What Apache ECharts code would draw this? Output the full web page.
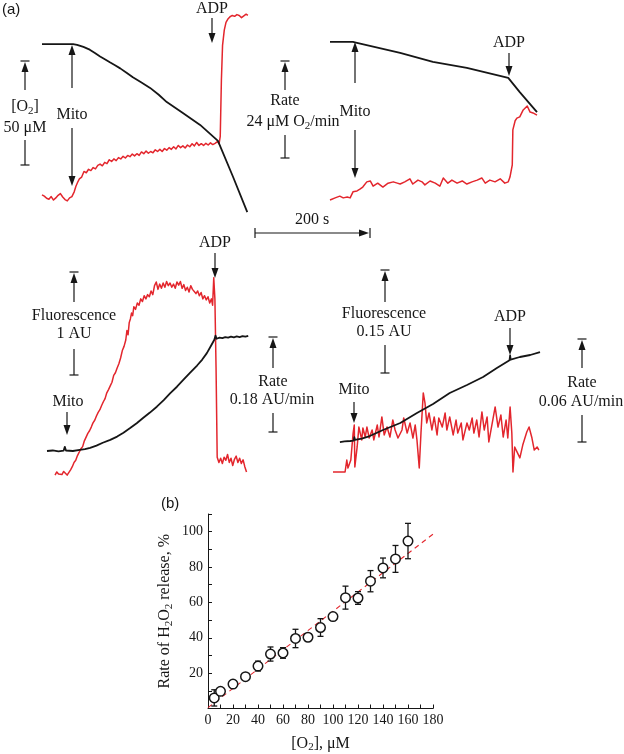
<!DOCTYPE html>
<html>
<head>
<meta charset="utf-8">
<script src="https://cdn.jsdelivr.net/npm/echarts@6.0.0/dist/echarts.min.js"></script>
<style>
  html, body { margin: 0; padding: 0; background: #fff; }
  #main { width: 624px; height: 754px; }
</style>
</head>
<body>
<div id="main"></div>
<script>
// ---- panel (a): recorded traces, [time s, value] ----
// top left: [O2] (uM) and respiration rate (uM O2/min)
var o2TraceA = [[0,82.2],[54,82.2],[61,81.8],[72,80.8],[83,79.5],[92,77.9],[101,76.2],[110,74.8],[118,73.4],[127,72.0],[136,70.5],[147,68.4],[158,66.2],[173,63.7],[188,61.1],[203,57.8],[217,54.3],[231,51.7],[245,49.0],[260,46.2],[275,43.3],[290,39.6],[306,35.6],[332,18.5],[357,1.4]];
var rateTraceA = [[0,0.5],[4,0.2],[8,-0.3],[12,-0.5],[16,0.1],[20,-0.7],[24,-0.2],[28,0.4],[32,0.8],[36,0],[40,-0.6],[44,-0.9],[48,-0.2],[52,0.1],[56,1.2],[59,2.5],[62,3.4],[65,4.2],[69,4.6],[73,5.9],[77,5.6],[81,6.4],[85,6.1],[89,6.8],[93,6.5],[97,7.3],[101,7.6],[105,7.2],[109,8.0],[113,7.7],[117,8.6],[121,8.2],[125,8.8],[129,8.4],[133,9.1],[137,8.8],[141,9.4],[145,9.0],[149,9.6],[153,9.3],[157,9.9],[161,9.5],[165,10.0],[169,9.6],[173,10.4],[177,10.0],[181,10.6],[185,10.1],[189,10.5],[193,10.2],[197,10.9],[201,10.5],[205,11.0],[209,10.5],[213,11.2],[217,10.8],[221,11.4],[225,11.0],[229,11.6],[233,11.1],[237,11.9],[241,11.4],[245,11.8],[249,11.3],[253,12.0],[257,11.6],[261,12.3],[265,11.8],[269,12.6],[273,11.9],[277,12.3],[281,11.9],[285,12.4],[289,12.0],[293,12.5],[297,12.1],[301,12.4],[305,12.8],[308,12.3],[310,14],[312,27],[314,35],[317,38.5],[320,40.3],[323,41.0],[327,41.6],[331,41.9],[335,41.7],[339,42.1],[343,41.9],[347,41.4],[351,41.8],[355,42.2],[358,41.9]];

// top right
var o2TraceB = [[0,83.2],[40,83.2],[45,82.9],[122,77.9],[179,73.6],[238,70.7],[310,65.9],[330,59.1],[360,49.5]];
var rateTraceB = [[0,-0.7],[9,-0.2],[17,0.2],[23,-0.2],[30,0],[35,-0.2],[40,1.2],[47,1.4],[52,1.8],[57,2.3],[64,3.5],[70,3.7],[75,2.5],[83,3.2],[92,2.3],[101,3.2],[110,3.5],[117,3.2],[122,3.0],[130,3.5],[139,4.2],[144,3.0],[153,3.9],[160,3.5],[165,2.8],[174,3.7],[183,3.2],[191,2.5],[197,4.4],[205,3.2],[212,3.9],[221,3.2],[230,3.7],[238,3.0],[247,3.5],[256,3.9],[264,4.4],[270,3.2],[278,3.9],[287,3.5],[296,4.2],[304,3.2],[310,3.5],[313,4.6],[317,7.4],[318,15.5],[322,17.6],[325,18.2],[330,18.5],[336,20.1],[343,21.0],[348,19.6],[353,19.4],[360,18.9]];

// bottom left: fluorescence (AU) and its rate (AU/min)
var fluoTraceC = [[0,0],[10,0.005],[20,-0.003],[29,0.004],[31,0.04],[33,0.005],[45,0.0],[57,0.01],[66,0.018],[75,0.03],[86,0.052],[97,0.08],[110,0.108],[122,0.14],[133,0.178],[144,0.22],[156,0.27],[167,0.32],[179,0.373],[191,0.43],[203,0.494],[214,0.56],[226,0.624],[237,0.69],[249,0.76],[261,0.83],[270,0.888],[278,0.95],[285,1.02],[291,1.08],[293,1.12],[295,1.09],[300,1.1],[305,1.095],[310,1.105],[315,1.1],[320,1.11],[325,1.103],[330,1.112],[335,1.106],[340,1.116],[345,1.11],[350,1.118]];
var rateTraceC = [[14,-0.004],[17,0.002],[20,-0.002],[23,0.001],[26,-0.003],[29,0.003],[32,0.005],[35,-0.004],[38,-0.002],[41,0.006],[44,0.012],[47,0.02],[50,0.024],[53,0.033],[56,0.036],[59,0.046],[62,0.05],[65,0.061],[68,0.064],[71,0.075],[74,0.08],[77,0.087],[80,0.095],[83,0.1],[86,0.108],[89,0.115],[92,0.12],[95,0.128],[98,0.135],[101,0.141],[104,0.152],[107,0.158],[110,0.165],[113,0.172],[116,0.185],[119,0.19],[122,0.199],[125,0.207],[128,0.218],[131,0.232],[134,0.24],[137,0.252],[139,0.27],[141,0.262],[143,0.285],[145,0.292],[147,0.303],[149,0.298],[151,0.315],[154,0.31],[157,0.322],[160,0.318],[163,0.33],[166,0.325],[169,0.336],[172,0.33],[175,0.338],[178,0.334],[181,0.345],[184,0.338],[187,0.355],[190,0.362],[193,0.348],[196,0.358],[199,0.35],[202,0.36],[205,0.352],[208,0.363],[211,0.355],[214,0.36],[217,0.352],[220,0.358],[223,0.35],[226,0.362],[229,0.356],[232,0.363],[235,0.35],[238,0.357],[241,0.346],[244,0.352],[247,0.343],[250,0.355],[253,0.348],[256,0.35],[259,0.34],[262,0.345],[265,0.336],[268,0.342],[271,0.33],[274,0.336],[277,0.328],[280,0.334],[283,0.322],[286,0.33],[288,0.318],[290,0.37],[292,0.33],[294,0.2],[296,0.03],[299,0.02],[302,0.028],[305,0.018],[308,0.03],[311,0.024],[314,0.035],[317,0.02],[320,0.028],[323,0.014],[326,0.026],[329,0.032],[332,0.02],[335,0.028],[338,0.018],[341,0.025],[344,0.012],[347,0.002]];

// bottom right
var fluoTraceD = [[12,0],[20,0.001],[30,0.0015],[36,0.002],[37,0.007],[38,0.003],[50,0.005],[64,0.0087],[87,0.0175],[117,0.0277],[146,0.0422],[174,0.0553],[203,0.0713],[233,0.083],[261,0.0946],[285,0.1077],[307,0.119],[308,0.126],[309,0.12],[325,0.1238],[343,0.1267],[360,0.131]];
var rateTraceD = [[0,0],[21,0],[24,0.007],[26,0.0023],[31,0.007],[35,0.0227],[37,0.0274],[38,0.0029],[42,0.0146],[45,0.0262],[50,0.0187],[52,0.0257],[56,0.0204],[59,0.0262],[63,0.0198],[68,0.0245],[71,0.0187],[77,0.0274],[80,0.0204],[85,0.0321],[89,0.0216],[94,0.0262],[99,0.0204],[104,0.0303],[108,0.0245],[113,0.0198],[120,0.0245],[123,0.0315],[129,0.0227],[134,0.0286],[139,0.0198],[143,0.0274],[146,0.0187],[150,0.0023],[153,0.0227],[157,0.0461],[160,0.0402],[163,0.0286],[167,0.0344],[172,0.0245],[176,0.0321],[181,0.0216],[184,0.0315],[190,0.0262],[195,0.0344],[198,0.0245],[203,0.0321],[209,0.0216],[214,0.0303],[217,0.0227],[223,0.0286],[226,0.0187],[233,0.0286],[237,0.0245],[242,0.0315],[245,0.0227],[250,0.0303],[254,0.0204],[259,0.035],[263,0.0245],[268,0.0321],[271,0.0175],[277,0.0286],[282,0.0379],[287,0.0262],[292,0.0332],[296,0.0204],[301,0.0303],[304,0.0198],[308,0.0379],[311,0.0227],[313,0],[316,0.0146],[320,0.0117],[325,0.0082],[330,0.0157],[337,0.0233],[341,0.0262],[346,0.0198],[350,0.0128],[355,0.0146],[358,0.0128]];

// ---- panel (b) ----
var o2Conc = [5,10,20,30,40,50,60,70,80,90,100,110,120,130,140,150,160];
var h2o2Rate = [6,9.7,13.8,18,24,30.8,31.4,39.6,40.3,45.8,52,62.7,62.5,72,79.5,84.6,94.7];
var h2o2Err = [4.6,1.2,1.5,1,2.8,4,3,5.2,1,5,2.2,6.5,3.6,6,5.6,7.6,10];
var fitLine = [[0,0.5],[180,98.6]];
var xTicksB = [0,180,20];
var yTicksB = [0,110,20];

var RED = '#e3262d', INK = '#161616';
var SERIF = '"Liberation Serif", "DejaVu Serif", serif';
var SANS = '"Liberation Sans", Arial, sans-serif';
var FS = 16;

var chart = echarts.init(document.getElementById('main'));

// plot boxes of the four recordings and their axis extents [black min,max, red min,max]
var boxes = [
    {left: 42, top: 12, width: 207, height: 203},
    {left: 330, top: 12, width: 207, height: 203},
    {left: 47, top: 250, width: 207, height: 230},
    {left: 333, top: 250, width: 207, height: 230}
];
var extents = [
    [0, 97.6, -4.15, 42.7],
    [0, 97.6, -4.15, 42.7],
    [-0.2816, 1.9515, -0.01327, 0.4226],
    [-0.0553, 0.2796, -0.00466, 0.1294]
];
var blacks = [o2TraceA, o2TraceB, fluoTraceC, fluoTraceD];
var reds = [rateTraceA, rateTraceB, rateTraceC, rateTraceD];

var grids = [], xAxes = [], yAxes = [], series = [];
boxes.forEach(function (b, i) {
    grids.push(b);
    xAxes.push({type: 'value', gridIndex: i, min: 0, max: 360, show: false});
    yAxes.push({type: 'value', gridIndex: i, min: extents[i][0], max: extents[i][1], show: false});
    yAxes.push({type: 'value', gridIndex: i, min: extents[i][2], max: extents[i][3], show: false});
    series.push({type: 'line', xAxisIndex: i, yAxisIndex: 2 * i, data: blacks[i], showSymbol: false,
        lineStyle: {color: INK, width: 1.8, join: 'round'}, z: 3});
    series.push({type: 'line', xAxisIndex: i, yAxisIndex: 2 * i + 1, data: reds[i], showSymbol: false,
        lineStyle: {color: RED, width: 1.5, join: 'round'}, z: 2});
});

var subRich = function (size) {
    return {
        a: {fontFamily: SERIF, fontSize: size, color: INK, lineHeight: size + 4},
        s: {fontFamily: SERIF, fontSize: Math.round(size * 0.68), color: INK,
            lineHeight: Math.round(size * 0.68), padding: [Math.round(size * 0.5), 0, 0, 0]}
    };
};

// panel (b) axes
grids.push({left: 208, top: 514, width: 225, height: 195});
xAxes.push({
    type: 'value', gridIndex: 4, min: xTicksB[0], max: xTicksB[1], interval: xTicksB[2],
    axisLine: {lineStyle: {color: INK, width: 1}},
    axisTick: {inside: true, length: 4, lineStyle: {color: INK}},
    minorTick: {show: true, splitNumber: 2, length: 4, lineStyle: {color: INK}},
    splitLine: {show: false},
    axisLabel: {color: INK, fontFamily: SERIF, fontSize: 14, margin: 5},
    name: '{a|[O}{s|2}{a|], \u03bcM}', nameLocation: 'middle', nameGap: 25,
    nameTextStyle: {rich: subRich(16)}
});
yAxes.push({
    type: 'value', gridIndex: 4, min: yTicksB[0], max: yTicksB[1], interval: yTicksB[2],
    axisLine: {lineStyle: {color: INK, width: 1}},
    axisTick: {inside: true, length: 4, lineStyle: {color: INK}},
    minorTick: {show: true, splitNumber: 2, length: 4, lineStyle: {color: INK}},
    splitLine: {show: false},
    axisLabel: {color: INK, fontFamily: SERIF, fontSize: 14, margin: 5,
        formatter: function (v) { return (v === 0 || v > 100) ? '' : v; }},
    name: '{a|Rate of H}{s|2}{a|O}{s|2}{a| release, %}', nameLocation: 'middle', nameGap: 33,
    nameRotate: 90, nameTextStyle: {rich: subRich(16)}
});

series.push({
    type: 'line', xAxisIndex: 4, yAxisIndex: 8, data: fitLine, showSymbol: false,
    lineStyle: {color: RED, width: 1.1, type: [5, 4]}, z: 1
});
series.push({
    type: 'custom', xAxisIndex: 4, yAxisIndex: 8,
    data: o2Conc.map(function (c, i) { return [c, h2o2Rate[i], h2o2Err[i]]; }),
    encode: {x: 0, y: 1},
    renderItem: function (params, api) {
        var x = api.value(0), y = api.value(1), e = api.value(2);
        var hi = api.coord([x, y + e]), lo = api.coord([x, y - e]);
        var st = {stroke: INK, lineWidth: 1.3};
        return {type: 'group', children: [
            {type: 'line', shape: {x1: hi[0], y1: hi[1], x2: lo[0], y2: lo[1]}, style: st},
            {type: 'line', shape: {x1: hi[0] - 3, y1: hi[1], x2: hi[0] + 3, y2: hi[1]}, style: st},
            {type: 'line', shape: {x1: lo[0] - 3, y1: lo[1], x2: lo[0] + 3, y2: lo[1]}, style: st}
        ]};
    },
    z: 2
});
series.push({
    type: 'scatter', xAxisIndex: 4, yAxisIndex: 8,
    data: o2Conc.map(function (c, i) { return [c, h2o2Rate[i]]; }),
    symbol: 'circle', symbolSize: 9.5,
    itemStyle: {color: '#fff', borderColor: INK, borderWidth: 1.5, opacity: 1},
    z: 3
});

// ---- annotations of panel (a) ----
function seg(x1, y1, x2, y2) {
    return {type: 'line', silent: true, shape: {x1: x1, y1: y1, x2: x2, y2: y2},
        style: {stroke: INK, lineWidth: 1.2}};
}
function head(x, y, dir) {
    return {type: 'polygon', silent: true,
        shape: {points: [[x, y], [x - 3.5, y - dir * 10], [x + 3.5, y - dir * 10]]},
        style: {fill: INK}};
}
function arrowDown(x, y1, tip) { return [seg(x, y1, x, tip - 8), head(x, tip, 1)]; }
function arrowUp(x, tip, y2) { return [seg(x, tip + 8, x, y2), head(x, tip, -1)]; }
function scaleBar(x, yTop, shaftEnd, lowStart, yBot) {
    return [seg(x - 4.5, yTop, x + 4.5, yTop)].concat(arrowUp(x, yTop + 1, shaftEnd),
        [seg(x, lowStart, x, yBot), seg(x - 4.5, yBot, x + 4.5, yBot)]);
}
function txt(x, y, s, opts) {
    opts = opts || {};
    var st = {text: s, fontFamily: opts.family || SERIF, fontSize: opts.size || FS, fill: INK,
        align: opts.align || 'center', verticalAlign: 'middle',
        textAlign: opts.align || 'center', textVerticalAlign: 'middle'};
    if (opts.rich) st.rich = opts.rich;
    return {type: 'text', silent: true, x: x, y: y, style: st};
}

var g = [];
g.push(txt(2, 10, '(a)', {family: SANS, size: 15, align: 'left'}));
g.push(txt(161, 504, '(b)', {family: SANS, size: 15, align: 'left'}));

// top left
g = g.concat(scaleBar(25, 61, 90, 140, 165));
g.push(txt(25, 107, '{a|[O}{s|2}{a|]}', {rich: subRich(FS)}));
g.push(txt(25, 128, '50 \u03bcM'));
g = g.concat(arrowUp(72, 45, 88), arrowDown(72, 128, 186));
g.push(txt(72, 115, 'Mito'));
g.push(txt(212, 9, 'ADP'));
g = g.concat(arrowDown(212, 18, 43));
g = g.concat(scaleBar(285, 61, 90, 135, 158));
g.push(txt(285, 101, 'Rate'));
g.push(txt(293, 122, '{a|24 \u03bcM O}{s|2}{a|/min}', {rich: subRich(FS)}));

// top right
g = g.concat(arrowUp(355, 42, 83), arrowDown(355, 130, 178));
g.push(txt(355, 112, 'Mito'));
g.push(txt(509, 43, 'ADP'));
g = g.concat(arrowDown(509, 53, 76));

// time bar
g.push(seg(255, 233, 362, 233), seg(255, 228, 255, 238), seg(370, 228, 370, 238));
g.push({type: 'polygon', silent: true, shape: {points: [[369, 233], [359, 229.5], [359, 236.5]]}, style: {fill: INK}});
g.push(txt(312, 220, '200 s'));

// bottom left
g = g.concat(scaleBar(74, 272, 302, 349, 375));
g.push(txt(74, 316, 'Fluorescence'));
g.push(txt(74, 334, '1 AU'));
g.push(txt(68, 402, 'Mito'));
g = g.concat(arrowDown(67, 412, 435));
g.push(txt(215, 243, 'ADP'));
g = g.concat(arrowDown(215, 253, 278));
g = g.concat(scaleBar(273, 337, 368, 413, 432));
g.push(txt(273, 382, 'Rate'));
g.push(txt(272, 400, '0.18 AU/min'));

// bottom right
g = g.concat(scaleBar(385, 270, 302, 345, 373));
g.push(txt(384, 314, 'Fluorescence'));
g.push(txt(384, 332, '0.15 AU'));
g.push(txt(510, 317, 'ADP'));
g = g.concat(arrowDown(510, 328, 355));
g.push(txt(354, 390, 'Mito'));
g = g.concat(arrowDown(354, 402, 423));
g = g.concat(scaleBar(582, 339, 368, 415, 442));
g.push(txt(582, 383, 'Rate'));
g.push(txt(581, 402, '0.06 AU/min'));

chart.setOption({
    animation: false,
    backgroundColor: '#fff',
    grid: grids,
    xAxis: xAxes,
    yAxis: yAxes,
    series: series,
    graphic: {elements: g}
});
</script>
</body>
</html>
